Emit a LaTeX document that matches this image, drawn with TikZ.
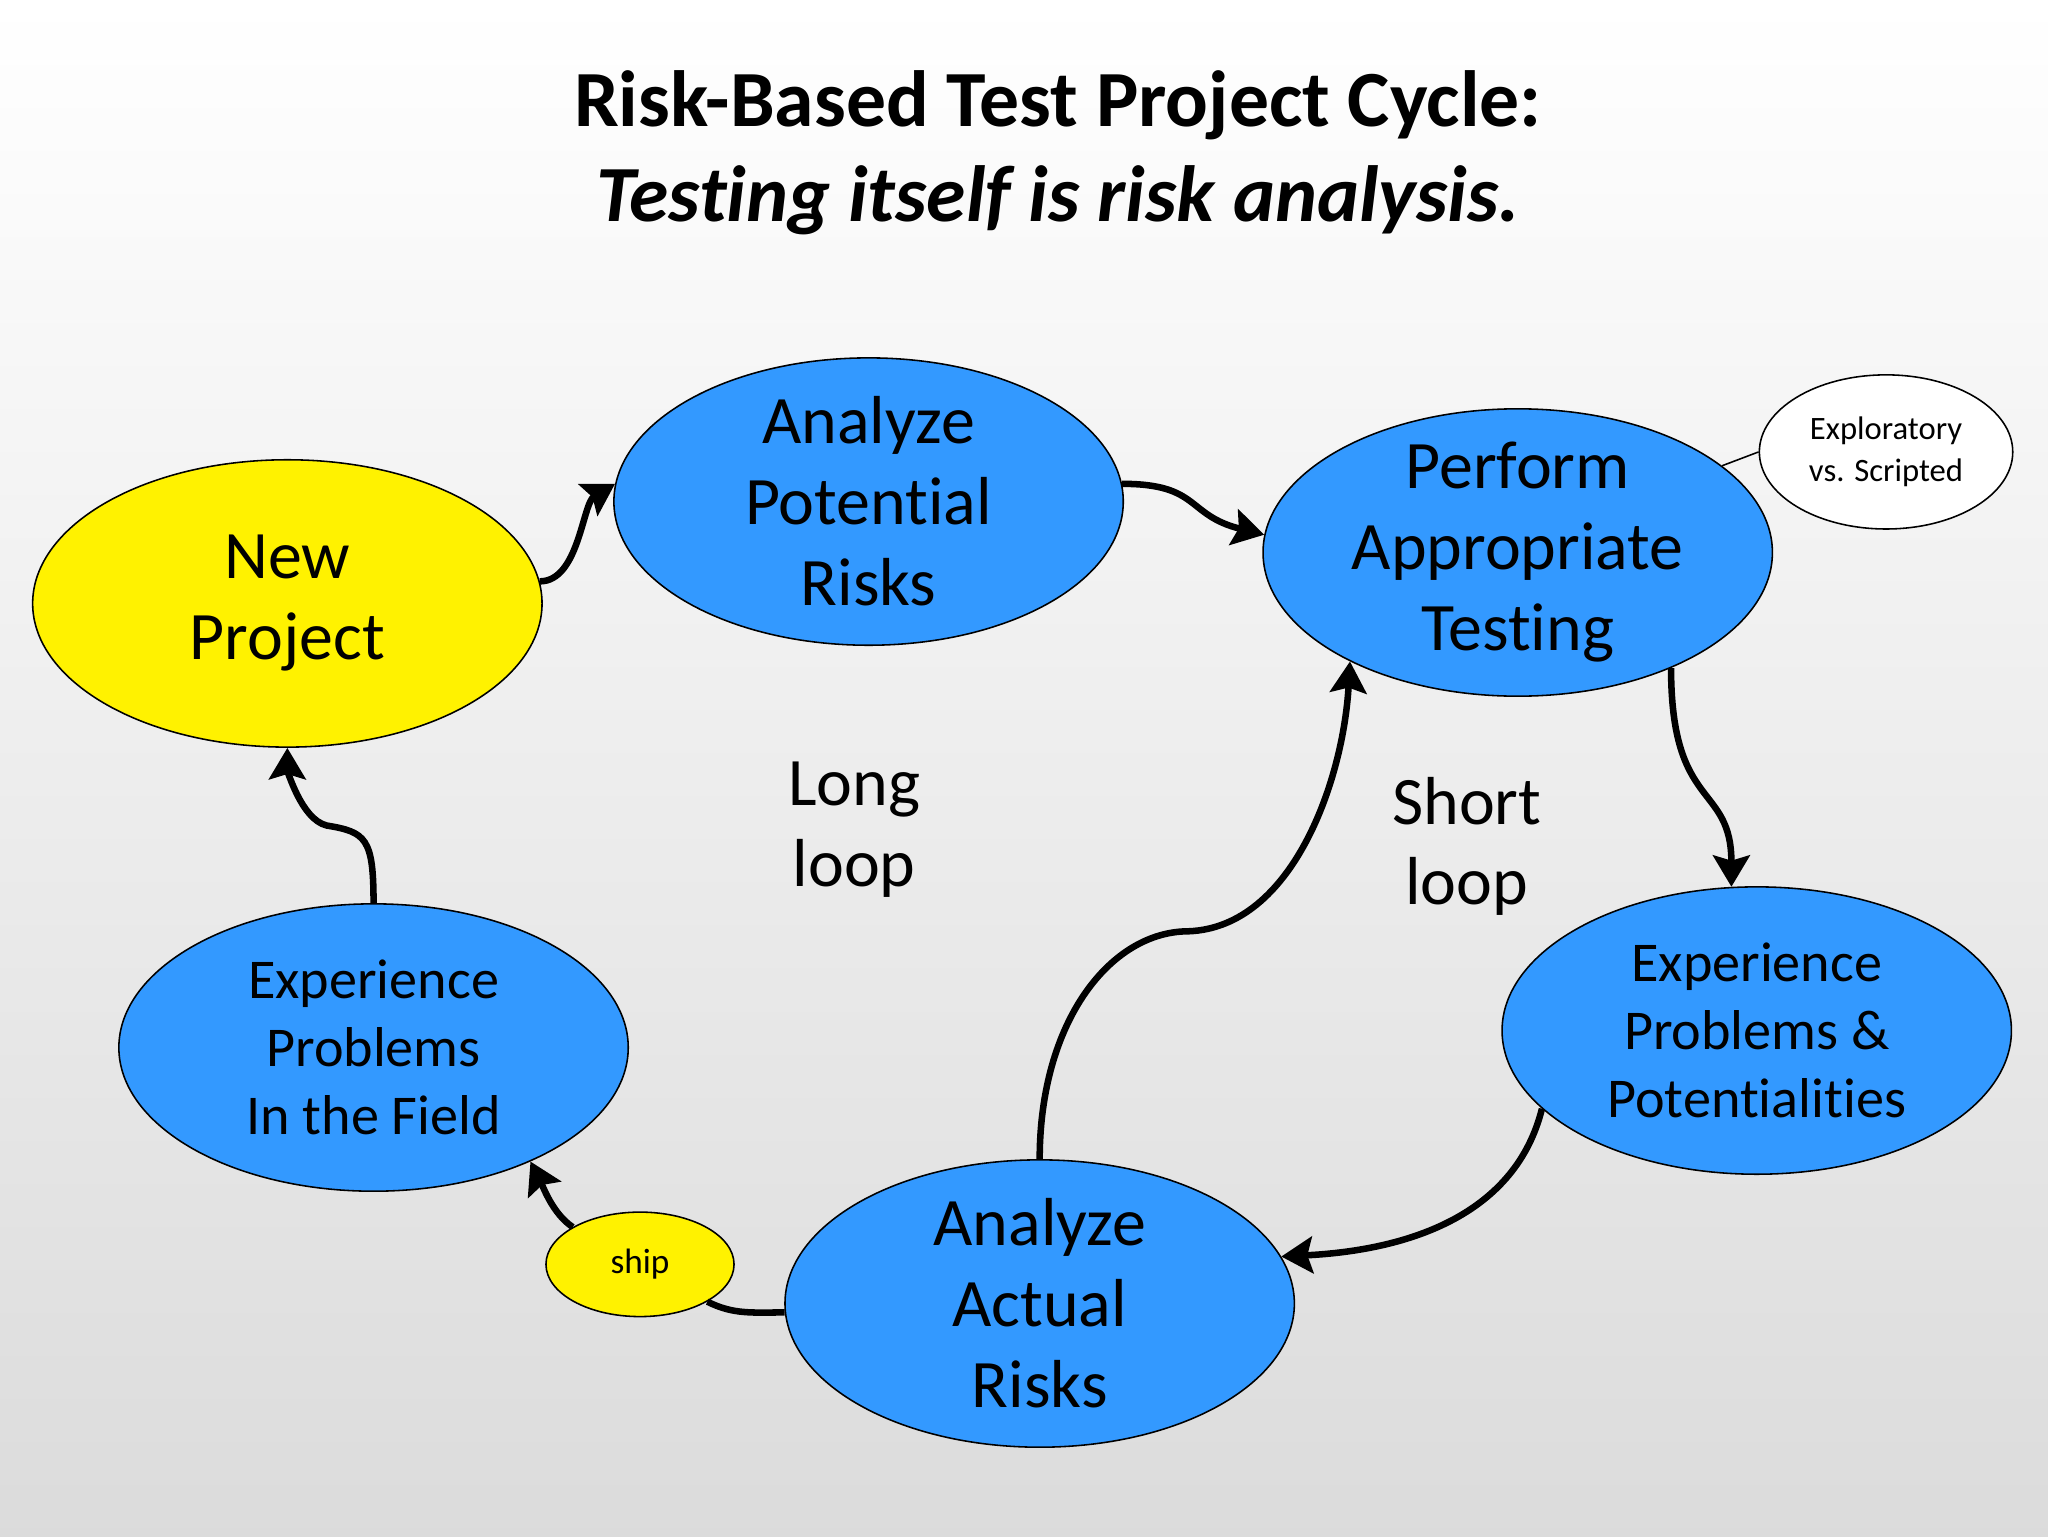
\documentclass[tikz,border=0pt]{standalone}
\usepackage{fontspec}
\setmainfont[Ligatures={NoCommon}]{Carlito}
\usetikzlibrary{shapes.geometric,arrows.meta}
\begin{document}
\begin{tikzpicture}[x=1pt,y=-1pt,
  ell/.style={ellipse,draw=black,line width=1.2pt,minimum width=390pt,minimum height=220pt,inner sep=0pt},
  blue/.style={ell,fill={rgb,255:red,51;green,153;blue,255}},
  yel/.style={ell,fill=yellow},
  big/.style={font=\fontsize{52}{62}\selectfont,align=center},
  mid/.style={font=\fontsize{43}{52}\selectfont,align=center},
  conn/.style={line width=5pt,-{Stealth[length=24pt,width=28pt,inset=4pt]}},
  plain/.style={line width=5pt}]
\shade[top color=white,bottom color=black!14] (0,0) rectangle (1568,1176);
\useasboundingbox (0,0) rectangle (1568,1176);
\node[font=\fontsize{61}{73}\selectfont\bfseries,align=center] (title) at (810,117) {Risk-Based Test Project Cycle:\\\itshape Testing itself is risk analysis.};
\node[yel] (np) at (220,462) {};
\node[big] (npt) at (np) {New\\Project};
\node[blue] (apr) at (665,384) {};
\node[big] (aprt) at (apr) {Analyze\\Potential\\Risks};
\node[blue] (pat) at (1162,423) {};
\node[big] (patt) at (pat) {Perform\\Appropriate\\Testing};
\node[ell,fill=white,minimum width=194pt,minimum height=118pt] (exp) at (1444,346) {};
\node[font=\fontsize{25}{32}\selectfont,align=center] (expt) at (exp) {Exploratory\\vs. Scripted};
\node[blue] (epp) at (1345,789) {};
\node[mid] (eppt) at (epp) {Experience\\Problems \&\\Potentialities};
\node[blue] (aar) at (796,998) {};
\node[big] (aart) at (aar) {Analyze\\Actual\\Risks};
\node[blue] (epf) at (286,802) {};
\node[mid] (epft) at (epf) {Experience\\Problems\\In the Field};
\node[yel,minimum width=144pt,minimum height=80pt] (ship) at (490,968) {};
\node[font=\fontsize{27}{30}\selectfont] (shipt) at (ship) {ship};
\node[big] (long) at (654,635) {Long\\loop};
\node[big] (short) at (1123,648) {Short\\loop};
\draw[line width=1.2pt] (pat.23) -- (exp.180);
\draw[conn] (np.5) .. controls +(30,0) and +(-25,15) .. (apr.176);
\draw[conn] (apr.4) .. controls +(60,0) and +(-60,-15) .. (pat.176);
\draw[conn] (pat.-37) .. controls +(0,110) and +(0,-80) .. (epp.100);
\draw[conn] (epp.200) .. controls +(-20,80) and +(100,-5) .. (aar.11);
\draw[conn] (aar.90) .. controls +(0,-105) and +(-60,0) .. (910,713) .. controls +(80,-3) and +(-5,90) .. (pat.213);
\draw[plain] (aar.182) .. controls +(-25,0) and +(20,10) .. (ship.-29);
\draw[conn] (ship.151) .. controls +(-15,-10) and +(10,20) .. (epf.-36);
\draw[conn] (epf.90) .. controls +(0,-50) and +(30,5) .. (250,632) .. controls +(-20,-5) and +(0,15) .. (np.-90);
\end{tikzpicture}
\end{document}
